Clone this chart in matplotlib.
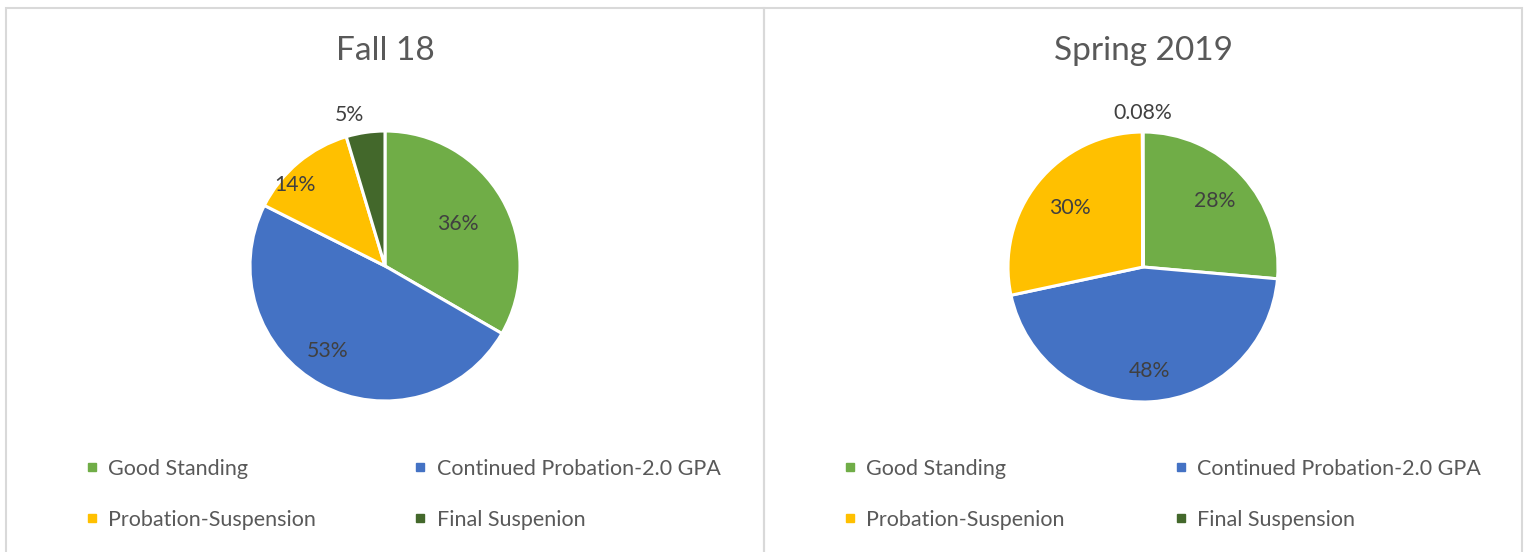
import matplotlib
matplotlib.use("Agg")
import matplotlib.pyplot as plt
from matplotlib.lines import Line2D
from matplotlib.patches import Rectangle
import numpy as np

plt.rcParams['font.family'] = ['Lato', 'DejaVu Sans']

# data
fall_title = "Fall 18"
fall_labels = ["Good Standing", "Continued Probation-2.0 GPA", "Probation-Suspension", "Final Suspenion"]
fall_vals = [36, 53, 14, 5]
fall_txt = ["36%", "53%", "14%", "5%"]

spring_title = "Spring 2019"
spring_labels = ["Good Standing", "Continued Probation-2.0 GPA", "Probation-Suspenion", "Final Suspension"]
spring_vals = [28, 48, 30, 0.08]
spring_txt = ["28%", "48%", "30%", "0.08%"]

colors = ["#70AD47", "#4472C4", "#FFC000", "#43682B"]

W, H = 1525, 552
fig = plt.figure(figsize=(W / 100, H / 100), dpi=100)

# panel borders
for x0, x1 in [(6, 764), (764, 1522)]:
    fig.patches.append(Rectangle((x0 / W, -0.1), (x1 - x0) / W, (H - 8) / H + 0.1,
                                 transform=fig.transFigure, fill=False,
                                 edgecolor="#d9d9d9", linewidth=1.5))


def draw_pie(cx, cy, vals, txt, labels, title, lab_r, lab_da, leg_x, colsp):
    r = 135
    half = 150
    ax = fig.add_axes([(cx - half) / W, (H - cy - half) / H, 2 * half / W, 2 * half / H])
    wedges, _ = ax.pie(vals, colors=colors, startangle=90, counterclock=False,
                       wedgeprops=dict(edgecolor="white", linewidth=2.2))
    lim = half / r
    ax.set_xlim(-lim, lim)
    ax.set_ylim(-lim, lim)
    ax.set_aspect("equal")
    for w, t, rr, da in zip(wedges, txt, lab_r, lab_da):
        ang = np.deg2rad((w.theta1 + w.theta2) / 2 + da)
        ax.text(rr * np.cos(ang), rr * np.sin(ang), t, ha="center", va="center",
                fontsize=15.3, color="#404040")
    fig.text(cx / W, 1 - 51 / H, title, ha="center", va="center", fontsize=24, color="#595959")

    order = [0, 2, 1, 3]
    handles = [Line2D([], [], marker="s", linestyle="", color=colors[i], markersize=6) for i in order]
    fig.legend(handles, [labels[i] for i in order], ncol=2, frameon=False,
               loc="upper left", bbox_to_anchor=(leg_x / W, 1 - 450 / H),
               fontsize=15.5, labelcolor="#595959", handlelength=0.6, handletextpad=0.45,
               columnspacing=colsp, labelspacing=1.45, borderaxespad=0)


draw_pie(385, 266, fall_vals, fall_txt, fall_labels, fall_title,
         [0.62, 0.76, 0.9, 1.15], [0, -6, 8, 5], 77, 4.55)
draw_pie(1143, 267, spring_vals, spring_txt, spring_labels, spring_title,
         [0.72, 0.77, 0.70, 1.14], [0, 0, 0, 0], 835, 5.1)

fig.savefig("out.png", dpi=100, facecolor="white")
